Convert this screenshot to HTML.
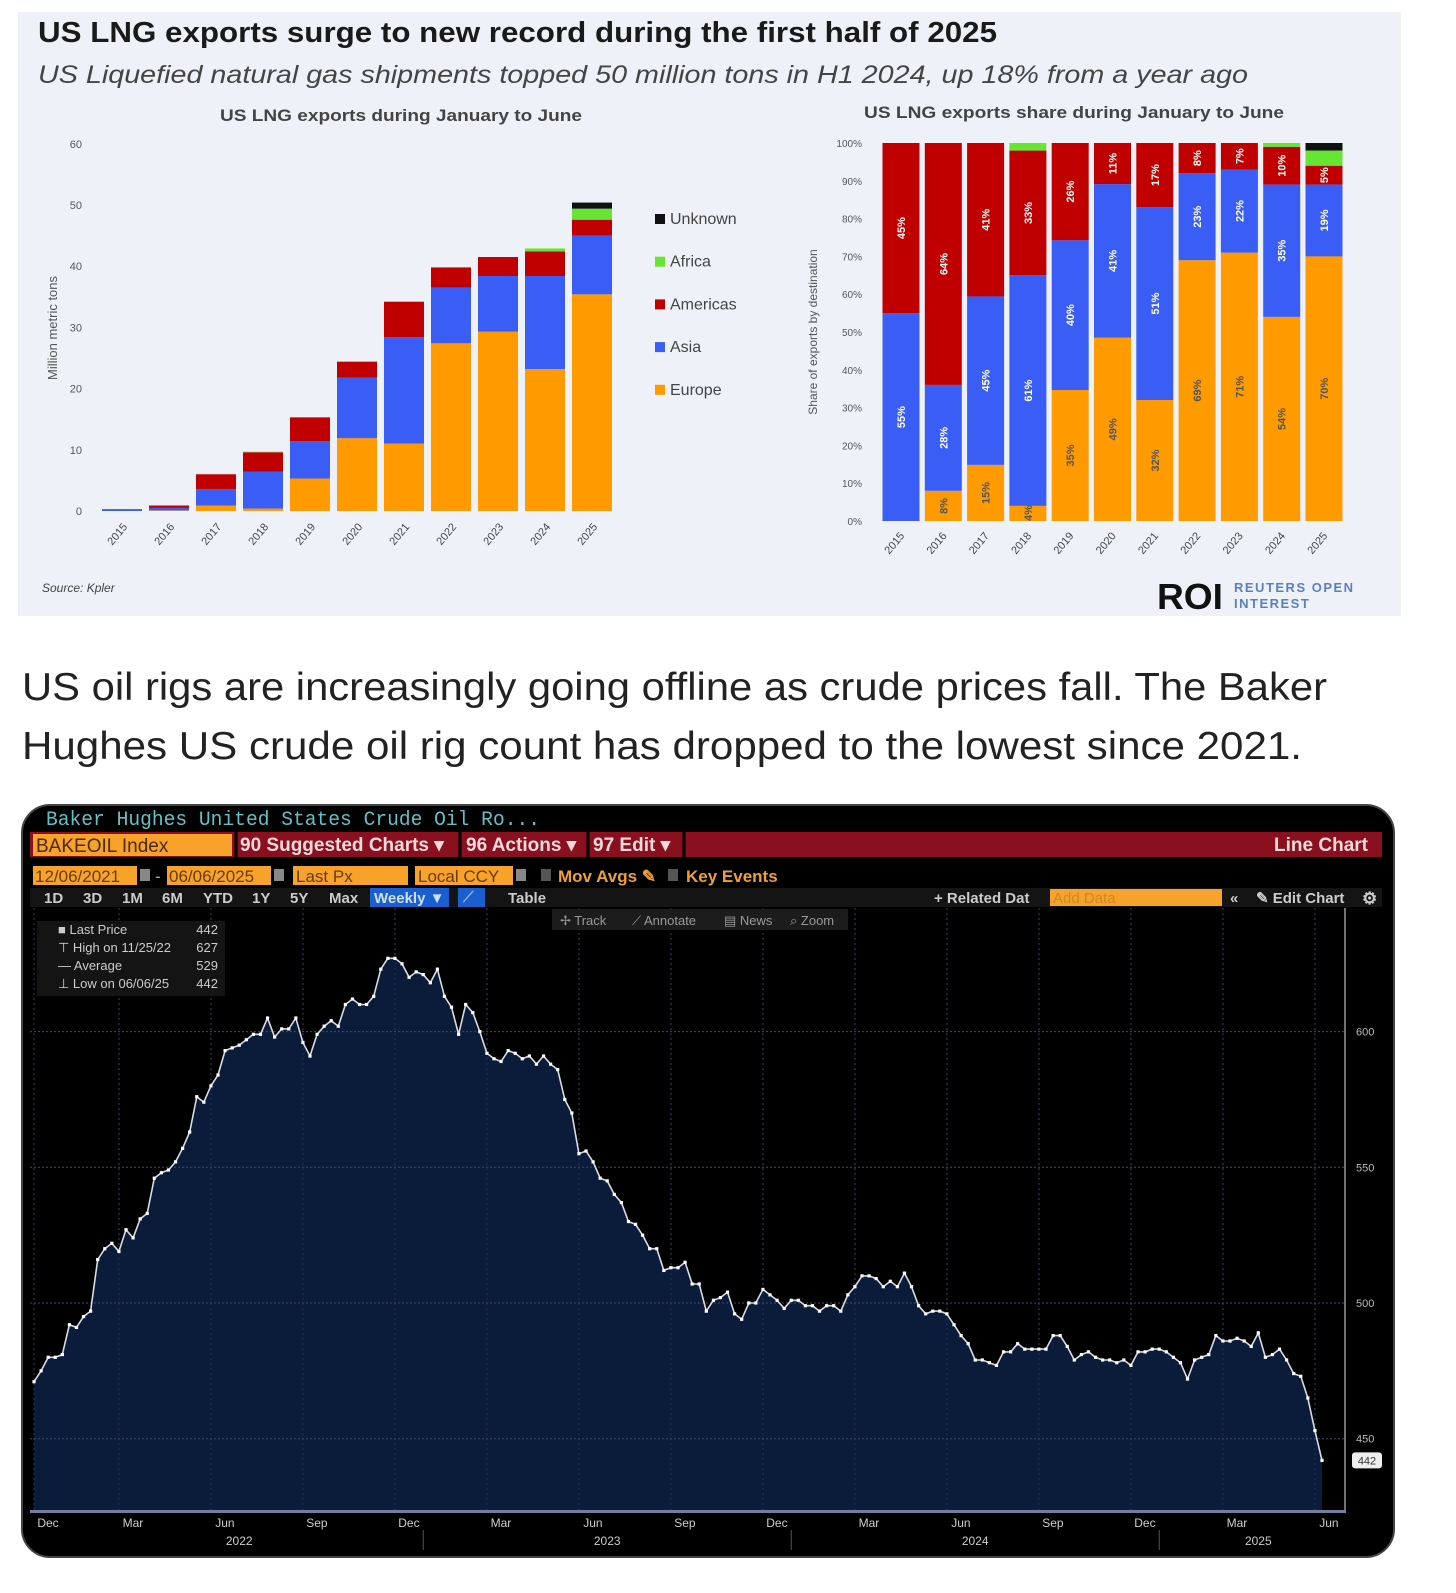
<!DOCTYPE html>
<html><head><meta charset="utf-8">
<style>
html,body{margin:0;padding:0;background:#fff;width:1456px;height:1593px;overflow:hidden}
svg{display:block}
.cal{font-family:"Liberation Sans",sans-serif}
.bb{font-family:"Liberation Sans Narrow","Liberation Sans",sans-serif}
</style></head>
<body>
<svg id="page" width="1456" height="1593" viewBox="0 0 1456 1593" xmlns="http://www.w3.org/2000/svg">
  <!-- LNG panel -->
  <rect x="18" y="12" width="1383" height="604" fill="#eef2f8"/>
  <text class="cal" x="38" y="42" font-size="29" font-weight="bold" fill="#1a1a1a" textLength="959" lengthAdjust="spacingAndGlyphs">US LNG exports surge to new record during the first half of 2025</text>
  <text class="cal" x="38" y="83" font-size="25" font-style="italic" fill="#444" textLength="1210" lengthAdjust="spacingAndGlyphs">US Liquefied natural gas shipments topped 50 million tons in H1 2024, up 18% from a year ago</text>
  <text class="cal" x="401" y="121" font-size="17" font-weight="bold" fill="#444" text-anchor="middle" textLength="362" lengthAdjust="spacingAndGlyphs">US LNG exports during January to June</text>
  <text class="cal" x="1074" y="118" font-size="17" font-weight="bold" fill="#444" text-anchor="middle" textLength="420" lengthAdjust="spacingAndGlyphs">US LNG exports share during January to June</text>
  <g id="leftChart"></g>
  <g id="rightChart"></g>
  <text class="cal" x="42" y="592" font-size="12" font-style="italic" fill="#444">Source: Kpler</text>
  <text class="cal" x="1157" y="609" font-size="36" font-weight="bold" fill="#111" textLength="66" lengthAdjust="spacingAndGlyphs">ROI</text>
  <text class="cal" x="1234" y="592" font-size="13" font-weight="bold" fill="#5b7fc0" letter-spacing="1.5">REUTERS OPEN</text>
  <text class="cal" x="1234" y="608" font-size="13" font-weight="bold" fill="#5b7fc0" letter-spacing="1.5">INTEREST</text>

  <!-- paragraph -->
  <text class="cal" x="22" y="700" font-size="39" fill="#222" textLength="1305" lengthAdjust="spacingAndGlyphs">US oil rigs are increasingly going offline as crude prices fall. The Baker</text>
  <text class="cal" x="22" y="759" font-size="39" fill="#222" textLength="1280" lengthAdjust="spacingAndGlyphs">Hughes US crude oil rig count has dropped to the lowest since 2021.</text>

  <!-- Bloomberg panel -->
  <rect x="22" y="805" width="1372" height="752" rx="28" fill="#000" stroke="#444" stroke-width="2"/>
  <text x="46" y="825" font-family="Liberation Mono,monospace" font-size="20" fill="#5fc2c6" textLength="494" lengthAdjust="spacingAndGlyphs">Baker Hughes United States Crude Oil Ro...</text>
  <rect x="30" y="832" width="1352" height="25" fill="#8a1020"/>
  <rect x="33" y="834" width="199" height="22" fill="#f7a32b"/>
  <text class="bb" x="36" y="852" font-size="19" fill="#4a2a00">BAKEOIL Index</text>
  <g class="bb" font-size="19" font-weight="bold" fill="#f4dada">
    <text x="240" y="851">90 Suggested Charts ▾</text>
    <text x="466" y="851">96 Actions ▾</text>
    <text x="593" y="851">97 Edit ▾</text>
    <text x="1368" y="851" text-anchor="end">Line Chart</text>
  </g>
  <g stroke="#000" stroke-width="3"><line x1="236" y1="832" x2="236" y2="857"/><line x1="460" y1="832" x2="460" y2="857"/><line x1="588" y1="832" x2="588" y2="857"/><line x1="684" y1="832" x2="684" y2="857"/></g>
  <g class="bb" font-size="17">
    <rect x="33" y="866" width="104" height="19" fill="#f7a32b"/>
    <text x="35" y="882" fill="#6a3a00">12/06/2021</text>
    <rect x="140" y="869" width="10" height="12" fill="#888"/>
    <text x="155" y="882" fill="#aaa">-</text>
    <rect x="167" y="866" width="104" height="19" fill="#f7a32b"/>
    <text x="169" y="882" fill="#6a3a00">06/06/2025</text>
    <rect x="274" y="869" width="10" height="12" fill="#888"/>
    <rect x="293" y="866" width="115" height="19" fill="#f7a32b"/>
    <text x="296" y="882" fill="#6a3a00">Last Px</text>
    <rect x="415" y="866" width="98" height="19" fill="#f7a32b"/>
    <text x="418" y="882" fill="#6a3a00">Local CCY</text>
    <rect x="516" y="869" width="10" height="12" fill="#888"/>
    <rect x="541" y="869" width="10" height="12" fill="#555"/>
    <text x="558" y="882" fill="#f0a030" font-weight="bold">Mov Avgs ✎</text>
    <rect x="668" y="869" width="10" height="12" fill="#555"/>
    <text x="686" y="882" fill="#f0a030" font-weight="bold">Key Events</text>
  </g>
  <rect x="30" y="888" width="1352" height="19" fill="#141414"/>
  <g class="bb" font-size="15" font-weight="bold" fill="#ccc">
    <text x="44" y="903">1D</text>
    <text x="83" y="903">3D</text>
    <text x="122" y="903">1M</text>
    <text x="162" y="903">6M</text>
    <text x="203" y="903">YTD</text>
    <text x="252" y="903">1Y</text>
    <text x="290" y="903">5Y</text>
    <text x="329" y="903">Max</text>
    <rect x="370" y="888" width="79" height="19" fill="#1a5fd0"/>
    <text x="374" y="903" fill="#cfe0ff">Weekly ▼</text>
    <rect x="458" y="888" width="27" height="19" fill="#1a5fd0"/>
    <text x="463" y="902" fill="#8fb0ff">⟋</text>
    <text x="508" y="903">Table</text>
    <text x="934" y="903">+ Related Dat</text>
    <rect x="1050" y="889" width="172" height="17" fill="#f7a32b"/>
    <text x="1053" y="903" fill="#c98a20" font-weight="normal">Add Data</text>
    <text x="1230" y="903">«</text>
    <text x="1256" y="903">✎ Edit Chart</text>
    <text x="1362" y="904" font-size="17">⚙</text>
  </g>
  <g id="rigChart"></g>
</svg>
<script>
const NS='http://www.w3.org/2000/svg';
function mk(parent,tag,attrs,text){const e=document.createElementNS(NS,tag);for(const k in attrs)e.setAttribute(k,attrs[k]);if(text!==undefined)e.textContent=text;parent.appendChild(e);return e;}

// ---- LNG data ----
const lngYears=['2015','2016','2017','2018','2019','2020','2021','2022','2023','2024','2025'];
const europeMt=[0,0.1,0.9,0.4,5.3,11.9,11.0,27.4,29.3,23.2,35.4];
const asiaMt=[0.2,0.4,2.7,6.0,6.1,9.9,17.4,9.1,9.1,15.2,9.6];
const americasMt=[0.1,0.4,2.4,3.2,3.9,2.6,5.8,3.3,3.1,4.0,2.6];
const africaMt=[0,0,0,0.1,0,0,0,0,0,0.5,1.8];
const unknownMt=[0,0,0,0,0,0,0,0,0,0,1.0];
const leftTicks=[0,10,20,30,40,50,60];
const europePct=[0,8,15,4,35,49,32,69,71,54,70];
const asiaPct=[55,28,45,61,40,41,51,23,22,35,19];
const americasPct=[45,64,41,33,26,11,17,8,7,10,5];
const africaPct=[0,0,0,2,0,0,0,0,0,1,4];
const unknownPct=[0,0,0,0,0,0,0,0,0,0,2];
const pctTicks=[0,10,20,30,40,50,60,70,80,90,100];
const regionNames=['Europe','Asia','Americas','Africa','Unknown'];
const regionColors=['#ff9a00','#3a5df6','#c00000','#66e633','#111111'];

// left chart
const L=document.getElementById('leftChart');
const yL=v=>511-v*6.12, xL=i=>122+i*47;
leftTicks.forEach(t=>{
  const e=mk(L,'text',{x:82,y:yL(t)+4,'font-size':11,fill:'#555','text-anchor':'end','font-family':'Liberation Sans,sans-serif'},String(t));
  
  
});
{const e=mk(L,'text',{x:0,y:0,'font-size':13,fill:'#555','text-anchor':'middle','font-family':'Liberation Sans,sans-serif',transform:'translate(57,328) rotate(-90)'},'Million metric tons');
}
const seriesMt=[europeMt,asiaMt,americasMt,africaMt,unknownMt];
lngYears.forEach((yr,i)=>{
  let base=0;
  seriesMt.forEach((s,k)=>{
    const v=s[i]; if(v<=0)return;
    const r=mk(L,'rect',{x:xL(i)-20,y:yL(base+v),width:40,height:yL(base)-yL(base+v),fill:regionColors[k]});
    
    
    base+=v;
  });
  const t=mk(L,'text',{x:0,y:0,'font-size':11,fill:'#444','text-anchor':'end','font-family':'Liberation Sans,sans-serif',transform:`translate(${xL(i)+6},${527}) rotate(-50)`},yr);
  
  
});
// legend
[4,3,2,1,0].forEach((k,j)=>{
  const y=220+j*42.7;
  const r=mk(L,'rect',{x:655,y:y-6,width:10,height:10,fill:regionColors[k]});
  
  
  const t=mk(L,'text',{x:670,y:y+4,'font-size':16,fill:'#444','font-family':'Liberation Sans,sans-serif'},regionNames[k]);
  
  
});

// right chart
const R=document.getElementById('rightChart');
const yR=p=>521-p*3.78, xR=i=>901+i*42.3;
pctTicks.forEach(t=>{
  const e=mk(R,'text',{x:862,y:yR(t)+4,'font-size':10,fill:'#555','text-anchor':'end','font-family':'Liberation Sans,sans-serif'},t+'%');
  
  
});
{const e=mk(R,'text',{x:0,y:0,'font-size':12,fill:'#555','text-anchor':'middle','font-family':'Liberation Sans,sans-serif',transform:'translate(817,332) rotate(-90)'},'Share of exports by destination');
}
const seriesPct=[europePct,asiaPct,americasPct,africaPct,unknownPct];
lngYears.forEach((yr,i)=>{
  const tot=seriesPct.reduce((a,s)=>a+s[i],0);
  let base=0;
  seriesPct.forEach((s,k)=>{
    const v=s[i]*100/tot;
    if(v>0){
      const r=mk(R,'rect',{x:xR(i)-18.5,y:yR(base+v),width:37,height:yR(base)-yR(base+v),fill:regionColors[k]});
      
      
    }
    if(k<3 && (s[i]>0||k===0)){
      const cy=s[i]<5?yR(base)-8:(yR(base)+yR(base+v))/2;
      const t=mk(R,'text',{x:0,y:0,'font-size':11,'font-weight':'bold',fill:k===0?'#555':'#fff','text-anchor':'middle','font-family':'Liberation Sans,sans-serif',transform:`translate(${xR(i)+4},${cy}) rotate(-90)`},s[i]+'%');
      
      
    }
    base+=v;
  });
  const t=mk(R,'text',{x:0,y:0,'font-size':11,fill:'#444','text-anchor':'end','font-family':'Liberation Sans,sans-serif',transform:`translate(${xR(i)+4},${536}) rotate(-50)`},yr);
  
  
});

// ---- Rig count data (weekly, 12/10/2021 - 06/06/2025) ----
const rigCounts=[471,475,480,480,
481,492,491,495,497,516,520,522,519,527,524,531,533,546,548,549,552,557,563,576,574,580,584,593,594,595,597,599,599,605,598,601,601,605,596,591,599,602,604,602,610,612,610,610,613,623,627,627,625,620,622,621,
618,623,613,609,599,610,607,600,592,590,589,593,592,590,591,588,591,588,586,575,570,555,556,552,546,545,540,537,530,529,525,520,520,512,513,513,515,507,507,497,501,502,504,496,494,500,500,505,503,501,498,501,
501,499,499,497,499,499,497,503,506,510,510,509,506,508,506,511,506,499,496,497,497,496,492,488,485,479,479,478,477,482,482,485,483,483,483,483,488,488,484,479,481,482,480,479,479,478,479,477,482,482,483,483,
482,480,478,472,479,480,481,488,486,486,487,486,484,489,480,481,483,479,474,473,465,453,442];
const rigTicks=[450,500,550,600];
const monthLabels=['Dec','Mar','Jun','Sep','Dec','Mar','Jun','Sep','Dec','Mar','Jun','Sep','Dec','Mar','Jun'];
const monthWeekIdx=[0,12,25,38,51,64,77,90,103,116,129,142,155,168,181];
const yearLabels=['2022','2023','2024','2025'];
const yearWeekIdx=[29,81,133,173];
const yearSepIdx=[55,107,159];

const C=document.getElementById('rigChart');
const n=rigCounts.length;
const xB=i=>34+i*(1322-34)/(n-1);
const yB=v=>1303-(v-500)*2.714;
const plotTop=908, plotBot=1510;
// vertical gridlines
monthWeekIdx.forEach((w,j)=>{
  const g=mk(C,'line',{x1:xB(w),y1:plotTop,x2:xB(w),y2:plotBot,stroke:'#3a3f4a','stroke-dasharray':'2,3','stroke-width':1});
  
  
});
// area
let d=`M${xB(0)},${plotBot} `+rigCounts.map((v,i)=>`L${xB(i).toFixed(1)},${yB(v).toFixed(1)}`).join(' ')+` L${xB(n-1)},${plotBot} Z`;
{const a=mk(C,'path',{d:d,fill:'#0b1c3b'});}
// inner gridlines over area
monthWeekIdx.forEach(w=>{
  const g=mk(C,'line',{x1:xB(w),y1:plotTop,x2:xB(w),y2:plotBot,stroke:'#2e4266','stroke-dasharray':'2,3','stroke-width':1,opacity:0.7});
  
  
});
rigTicks.forEach(t=>{
  const g=mk(C,'line',{x1:30,y1:yB(t),x2:1345,y2:yB(t),stroke:'#3d4c66','stroke-dasharray':'2,2','stroke-width':1});
  
  
  const tx=mk(C,'text',{x:1356,y:yB(t)+4,'font-size':11,fill:'#bbb','font-family':'Liberation Sans Narrow,Liberation Sans,sans-serif'},String(t));
  
  
});
{const l=mk(C,'polyline',{points:rigCounts.map((v,i)=>`${xB(i).toFixed(1)},${yB(v).toFixed(1)}`).join(' '),fill:'none',stroke:'#d8dce4','stroke-width':1.6});
}
rigCounts.forEach((v,i)=>{
  const p=mk(C,'rect',{x:xB(i)-1.6,y:yB(v)-1.6,width:3.2,height:3.2,fill:'#fff'});
  
  
});
// right axis
{const ax=mk(C,'line',{x1:1345,y1:plotTop,x2:1345,y2:plotBot,stroke:'#999','stroke-width':1.5});}
{const bx=mk(C,'rect',{x:1352,y:yB(rigCounts[n-1])-8,width:30,height:16,rx:3,fill:'#eee'});
 const bt=mk(C,'text',{x:1367,y:yB(rigCounts[n-1])+4,'font-size':11,fill:'#333','text-anchor':'middle','font-family':'Liberation Sans Narrow,Liberation Sans,sans-serif'},String(rigCounts[n-1]));}
// bottom axis
{const ax=mk(C,'rect',{x:30,y:plotBot,width:1316,height:3,fill:'#7080a0'});}
monthLabels.forEach((m,j)=>{
  const t=mk(C,'text',{x:xB(monthWeekIdx[j])+14,y:1527,'font-size':12,fill:'#ccc','text-anchor':'middle','font-family':'Liberation Sans Narrow,Liberation Sans,sans-serif'},m);
  
  
});
yearLabels.forEach((y,j)=>{
  const t=mk(C,'text',{x:xB(yearWeekIdx[j]),y:1545,'font-size':12,fill:'#ccc','text-anchor':'middle','font-family':'Liberation Sans Narrow,Liberation Sans,sans-serif'},y);
  
  
});
yearSepIdx.forEach(w=>{
  const s=mk(C,'line',{x1:xB(w),y1:1530,x2:xB(w),y2:1550,stroke:'#555','stroke-width':1});
  
  
});
// legend box
const lg=mk(C,'g',{});


mk(lg,'rect',{x:37,y:921,width:188,height:75,fill:'#141414'});
const statRows=[['■ Last Price','442'],['⊤ High on 11/25/22','627'],['— Average','529'],['⊥ Low on 06/06/25','442']];
statRows.forEach((r,j)=>{
  const a=mk(lg,'text',{x:58,y:934+j*18,'font-size':13,fill:'#ccc','font-family':'Liberation Sans Narrow,Liberation Sans,sans-serif'},r[0]);
  
  
  const b=mk(lg,'text',{x:218,y:934+j*18,'font-size':13,fill:'#ccc','text-anchor':'end','font-family':'Liberation Sans Narrow,Liberation Sans,sans-serif'},r[1]);
  
  
});
// track toolbar
const tb=mk(C,'g',{});


mk(tb,'rect',{x:552,y:909,width:296,height:21,fill:'#1c1c1c'});
[['✢ Track',560],['⟋ Annotate',632],['▤ News',724],['⌕ Zoom',790]].forEach(([s,x])=>{
  const t=mk(tb,'text',{x:x,y:925,'font-size':13,fill:'#999','font-family':'Liberation Sans Narrow,Liberation Sans,sans-serif'},s);
  
  
});
</script>
</body></html>
